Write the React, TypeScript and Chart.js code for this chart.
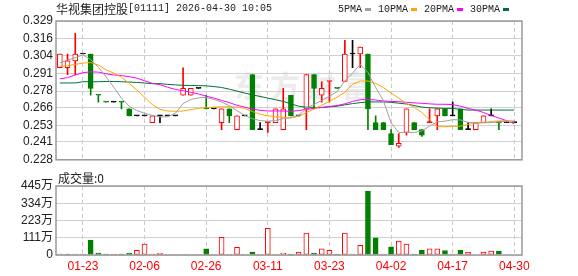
import React, { useEffect, useRef } from 'react';
import { Chart, registerables } from 'chart.js';

Chart.register(...registerables);

const tickIndex = [3, 11, 19, 27, 35, 43, 51, 59];
const tickDates = ['01-23', '02-06', '02-26', '03-11', '03-23', '04-02', '04-17', '04-30'];
const priceTicks = [0.228, 0.241, 0.253, 0.266, 0.278, 0.291, 0.304, 0.316, 0.329];
const volumeTicks = [0, 111, 223, 334, 445];

const opens = [
  0.295, 0.295, 0.300, 0.305, 0.305, 0.275, 0.270, 0.270, 0.270, 0.265,
  0.260, 0.260, 0.255, 0.260, 0.260, 0.260, 0.275, 0.275, 0.280, 0.265,
  0.265, 0.255, 0.265, 0.250, 0.260, 0.290, 0.250, 0.255, 0.255, 0.250,
  0.275, 0.260, 0.265, 0.290, 0.275, 0.285, 0.280, 0.285, 0.305, 0.305,
  0.305, 0.255, 0.255, 0.247, 0.238, 0.248, 0.255, 0.250, 0.255, 0.260,
  0.265, 0.260, 0.265, 0.250, 0.250, 0.255, 0.260, 0.255, 0.255, 0.255,
];
const highs = [
  0.305, 0.305, 0.320, 0.305, 0.305, 0.275, 0.270, 0.270, 0.270, 0.265,
  0.260, 0.260, 0.260, 0.260, 0.260, 0.260, 0.295, 0.280, 0.280, 0.275,
  0.265, 0.265, 0.265, 0.260, 0.260, 0.290, 0.255, 0.255, 0.265, 0.280,
  0.275, 0.260, 0.290, 0.290, 0.285, 0.285, 0.280, 0.315, 0.315, 0.310,
  0.305, 0.260, 0.255, 0.250, 0.247, 0.265, 0.255, 0.250, 0.265, 0.265,
  0.265, 0.270, 0.265, 0.255, 0.255, 0.260, 0.265, 0.255, 0.255, 0.255,
];
const lows = [
  0.295, 0.290, 0.290, 0.305, 0.275, 0.270, 0.270, 0.270, 0.265, 0.260,
  0.260, 0.260, 0.255, 0.255, 0.260, 0.260, 0.275, 0.275, 0.280, 0.265,
  0.265, 0.250, 0.255, 0.250, 0.260, 0.250, 0.250, 0.248, 0.255, 0.250,
  0.260, 0.260, 0.250, 0.265, 0.270, 0.270, 0.280, 0.285, 0.295, 0.295,
  0.250, 0.250, 0.250, 0.239, 0.237, 0.246, 0.250, 0.245, 0.255, 0.250,
  0.260, 0.260, 0.250, 0.250, 0.250, 0.255, 0.260, 0.250, 0.255, 0.255,
];
const closes = [
  0.305, 0.300, 0.305, 0.305, 0.280, 0.275, 0.270, 0.270, 0.270, 0.260,
  0.260, 0.260, 0.260, 0.260, 0.260, 0.260, 0.280, 0.280, 0.280, 0.265,
  0.265, 0.265, 0.260, 0.260, 0.260, 0.250, 0.250, 0.255, 0.265, 0.265,
  0.260, 0.260, 0.290, 0.280, 0.280, 0.285, 0.280, 0.305, 0.305, 0.310,
  0.265, 0.250, 0.250, 0.239, 0.240, 0.265, 0.250, 0.246, 0.255, 0.265,
  0.260, 0.260, 0.250, 0.250, 0.255, 0.260, 0.260, 0.255, 0.255, 0.255,
];
// r = up (red), g = down (green), k = unchanged (black)
const candleTone = [
  'r', 'r', 'r', 'k', 'g', 'g', 'g', 'k', 'g', 'g',
  'k', 'k', 'r', 'k', 'k', 'k', 'r', 'r', 'k', 'g',
  'k', 'r', 'g', 'r', 'k', 'g', 'k', 'r', 'r', 'r',
  'g', 'k', 'r', 'g', 'r', 'r', 'g', 'r', 'k', 'r',
  'g', 'g', 'g', 'g', 'r', 'r', 'g', 'g', 'r', 'r',
  'g', 'k', 'g', 'k', 'r', 'r', 'k', 'g', 'k', 'k',
];

// 成交量 (万)
const volumes = [
  6, 6, 6, 6, 97, 13, 6, 6, 6, 13,
  30, 71, 6, 13, 5, 5, 5, 5, 5, 39,
  5, 114, 5, 49, 5, 19, 5, 172, 5, 12,
  6, 19, 142, 13, 39, 30, 6, 142, 6, 62,
  413, 110, 6, 52, 90, 71, 6, 32, 39, 39,
  28, 6, 32, 19, 0, 19, 26, 26, 0, 0,
];
const volumeTone = [
  'r', 'g', 'r', 'r', 'g', 'g', 'g', 'r', 'g', 'g',
  'r', 'r', 'r', 'r', 'r', 'r', 'r', 'r', 'r', 'g',
  'r', 'r', 'r', 'r', 'r', 'g', 'r', 'r', 'r', 'r',
  'g', 'r', 'r', 'g', 'r', 'r', 'g', 'r', 'r', 'r',
  'g', 'g', 'r', 'g', 'r', 'r', 'g', 'g', 'r', 'r',
  'g', 'r', 'g', 'r', 'r', 'r', 'r', 'g', 'r', 'r',
];

const ma5 = [
  0.2986, 0.3005, 0.3023, 0.3044, 0.3009, 0.2953, 0.2883, 0.2808, 0.2729, 0.2670,
  0.2638, 0.2619, 0.2603, 0.2593, 0.2593, 0.2619, 0.2689, 0.2719, 0.2731, 0.2734,
  0.2719, 0.2701, 0.2673, 0.2638, 0.2603, 0.2579, 0.2565, 0.2561, 0.2565, 0.2579,
  0.2588, 0.2603, 0.2654, 0.2684, 0.2712, 0.2743, 0.2776, 0.2853, 0.2911, 0.2974,
  0.2916, 0.2806, 0.2712, 0.2549, 0.2479, 0.2479, 0.2479, 0.2490, 0.2525, 0.2556,
  0.2561, 0.2572, 0.2570, 0.2553, 0.2546, 0.2549, 0.2551, 0.2556, 0.2561, 0.2553,
];
const ma10 = [
  0.2958, 0.2965, 0.2974, 0.2984, 0.2988, 0.2970, 0.2935, 0.2911, 0.2881, 0.2836,
  0.2787, 0.2736, 0.2682, 0.2647, 0.2635, 0.2633, 0.2635, 0.2645, 0.2654, 0.2659,
  0.2663, 0.2666, 0.2666, 0.2663, 0.2654, 0.2631, 0.2612, 0.2600, 0.2593, 0.2588,
  0.2584, 0.2596, 0.2624, 0.2649, 0.2677, 0.2705, 0.2736, 0.2771, 0.2829, 0.2853,
  0.2853, 0.2836, 0.2806, 0.2766, 0.2729, 0.2689, 0.2663, 0.2624, 0.2572, 0.2521,
  0.2521, 0.2523, 0.2525, 0.2537, 0.2549, 0.2553, 0.2558, 0.2563, 0.2565, 0.2563,
];
const ma20 = [
  0.2869, 0.2878, 0.2897, 0.2914, 0.2920, 0.2918, 0.2906, 0.2897, 0.2893, 0.2885,
  0.2874, 0.2855, 0.2836, 0.2827, 0.2808, 0.2792, 0.2783, 0.2771, 0.2759, 0.2743,
  0.2729, 0.2712, 0.2696, 0.2677, 0.2663, 0.2649, 0.2640, 0.2635, 0.2635, 0.2635,
  0.2633, 0.2638, 0.2647, 0.2654, 0.2661, 0.2668, 0.2675, 0.2687, 0.2705, 0.2717,
  0.2719, 0.2715, 0.2708, 0.2705, 0.2703, 0.2698, 0.2694, 0.2691, 0.2687, 0.2684,
  0.2684, 0.2682, 0.2670, 0.2654, 0.2642, 0.2624, 0.2603, 0.2584, 0.2565, 0.2542,
];
const ma30 = [
  0.2839, 0.2839, 0.2839, 0.2848, 0.2848, 0.2848, 0.2850, 0.2850, 0.2848, 0.2846,
  0.2843, 0.2839, 0.2834, 0.2834, 0.2829, 0.2825, 0.2822, 0.2820, 0.2820, 0.2818,
  0.2813, 0.2806, 0.2794, 0.2780, 0.2766, 0.2752, 0.2741, 0.2729, 0.2717, 0.2705,
  0.2687, 0.2670, 0.2663, 0.2661, 0.2661, 0.2666, 0.2670, 0.2680, 0.2689, 0.2696,
  0.2701, 0.2701, 0.2701, 0.2698, 0.2692, 0.2686, 0.2675, 0.2663, 0.2659, 0.2656,
  0.2654, 0.2654, 0.2647, 0.2642, 0.2642, 0.2642, 0.2642, 0.2642, 0.2642, 0.2642,
];

const maLabels = ['5PMA', '10PMA', '20PMA', '30PMA'];
const maColors = ['#a0a0a0', '#ffa500', '#ff00ff', '#00703a'];

const RED = '#ff0000';
const GREEN = '#008000';
const BLACK = '#000000';
const SANS = "'Liberation Sans', 'Noto Sans CJK SC', sans-serif";

export default function App() {
  const priceRef = useRef<HTMLCanvasElement | null>(null);
  const volRef = useRef<HTMLCanvasElement | null>(null);

  useEffect(() => {
    const N = closes.length;
    const idx = Array.from({ length: N }, (_, i) => i);
    const tone = (t: string) => (t === 'r' ? RED : t === 'g' ? GREEN : BLACK);

    const framePlugin = {
      id: 'frame',
      afterDraw(chart: any) {
        const { ctx, chartArea: a } = chart;
        ctx.save();
        ctx.strokeStyle = '#9a9a9a';
        ctx.lineWidth = 1.5;
        ctx.strokeRect(a.left, a.top, a.right - a.left, a.bottom - a.top);
        ctx.restore();
      },
    };

    const makeX = (showLabels: boolean): any => ({
      type: 'linear',
      min: -0.5,
      max: N,
      offset: false,
      afterBuildTicks: (s: any) => {
        s.ticks = tickIndex.map((v) => ({ value: v }));
      },
      afterFit: (s: any) => {
        if (showLabels) s.height = 18;
      },
      grid: { color: '#c8c8c8', lineWidth: 1, drawTicks: false, offset: false },
      border: { display: false, dash: [4, 3] },
      ticks: {
        display: showLabels,
        autoSkip: false,
        maxRotation: 0,
        padding: 4,
        color: RED,
        font: { size: 12, family: SANS },
        callback: (v: any) => {
          const k = tickIndex.indexOf(Number(v));
          return k >= 0 ? tickDates[k] : '';
        },
      },
    });

    const makeY = (min: number, max: number, values: number[], fmt: (v: number) => string): any => ({
      min,
      max,
      afterBuildTicks: (s: any) => {
        s.ticks = values.map((v) => ({ value: v }));
      },
      afterFit: (s: any) => {
        s.width = 48;
      },
      grid: { color: '#d0d0d0', drawTicks: false },
      border: { display: false },
      ticks: {
        autoSkip: false,
        padding: 3,
        color: '#222222',
        font: { size: 12, family: SANS },
        callback: (v: any) => fmt(Number(v)),
      },
    });

    const maSeries = [ma5, ma10, ma20, ma30];

    const price = new Chart(priceRef.current as HTMLCanvasElement, {
      type: 'bar',
      data: {
        datasets: [
          ...maSeries.map((s, k) => ({
            type: 'line' as const,
            label: maLabels[k],
            data: idx.map((i) => ({ x: i, y: s[i] })),
            borderColor: maColors[k],
            borderWidth: 1,
            pointRadius: 0,
            tension: 0,
            fill: false,
            order: 0,
          })),
          {
            type: 'bar' as const,
            label: 'body',
            data: idx.map((i) => ({
              x: i,
              y: [Math.min(opens[i], closes[i]), Math.max(opens[i], closes[i])],
            })),
            backgroundColor: idx.map((i) => (closes[i] > opens[i] ? '#ffffff' : tone(candleTone[i]))),
            borderColor: idx.map((i) => tone(candleTone[i])),
            borderWidth: 1,
            borderSkipped: false,
            barThickness: 5,
            minBarLength: 1,
            grouped: false,
            order: 1,
          },
          {
            type: 'bar' as const,
            label: 'wick',
            data: idx.map((i) => ({ x: i, y: [lows[i], highs[i]] })),
            backgroundColor: idx.map((i) => tone(candleTone[i])),
            borderWidth: 0,
            barThickness: 1,
            grouped: false,
            order: 2,
          },
        ] as any,
      },
      options: {
        responsive: false,
        animation: false,
        devicePixelRatio: 1,
        layout: { padding: { left: 8, right: 56, top: 21, bottom: 5 } },
        plugins: { legend: { display: false }, tooltip: { enabled: false } },
        scales: {
          x: makeX(false),
          y: makeY(0.228, 0.329, priceTicks, (v) => v.toFixed(3)),
        },
      } as any,
      plugins: [framePlugin],
    });

    const vol = new Chart(volRef.current as HTMLCanvasElement, {
      type: 'bar',
      data: {
        datasets: [
          {
            label: '成交量',
            data: idx.map((i) => ({ x: i, y: volumes[i] })),
            backgroundColor: idx.map((i) => (volumeTone[i] === 'r' ? '#ffffff' : GREEN)),
            borderColor: idx.map((i) => tone(volumeTone[i])),
            borderWidth: 1,
            borderSkipped: false,
            barThickness: 5,
            grouped: false,
          },
        ] as any,
      },
      options: {
        responsive: false,
        animation: false,
        devicePixelRatio: 1,
        layout: { padding: { left: 8, right: 56, top: 14, bottom: 3 } },
        plugins: { legend: { display: false }, tooltip: { enabled: false } },
        scales: {
          x: makeX(true),
          y: makeY(0, 445, volumeTicks, (v) => (v === 0 ? '0' : `${v}万`)),
        },
      } as any,
      plugins: [framePlugin],
    });

    return () => {
      price.destroy();
      vol.destroy();
    };
  }, []);

  const cjk = "'Noto Sans CJK SC', sans-serif";
  const mono = "'Liberation Mono', monospace";

  return (
    <div
      style={{
        position: 'fixed',
        left: 0,
        top: 0,
        width: 578,
        height: 276,
        background: '#ffffff',
        overflow: 'hidden',
      }}
    >
      <div
        style={{
          position: 'absolute',
          left: 234,
          top: 66,
          fontFamily: cjk,
          fontWeight: 700,
          fontSize: 30,
          letterSpacing: 6,
          color: '#ececec',
          lineHeight: '36px',
          whiteSpace: 'nowrap',
        }}
      >
        东方财富
      </div>
      <canvas
        ref={priceRef}
        width={578}
        height={170}
        style={{ position: 'absolute', left: 0, top: 0 }}
      />
      <canvas
        ref={volRef}
        width={578}
        height={104}
        style={{ position: 'absolute', left: 0, top: 172 }}
      />
      <div
        style={{
          position: 'absolute',
          left: 56,
          top: 1,
          height: 16,
          display: 'flex',
          alignItems: 'center',
          whiteSpace: 'nowrap',
          color: '#222222',
        }}
      >
        <span style={{ fontFamily: cjk, fontSize: 12, lineHeight: '16px' }}>华视集团控股</span>
        <span style={{ fontFamily: mono, fontSize: 10, lineHeight: '16px' }}>[01111] 2026-04-30 10:05</span>
      </div>
      <div
        style={{
          position: 'absolute',
          left: 338,
          top: 1,
          height: 16,
          display: 'flex',
          alignItems: 'center',
          whiteSpace: 'nowrap',
          color: '#222222',
          fontFamily: mono,
          fontSize: 10,
        }}
      >
        {maLabels.map((label, k) => (
          <span key={label} style={{ display: 'flex', alignItems: 'center', marginRight: 7 }}>
            <span>{label}</span>
            <span
              style={{
                display: 'inline-block',
                marginLeft: 3,
                width: 6,
                height: 3,
                background: maColors[k],
              }}
            />
          </span>
        ))}
      </div>
      <div
        style={{
          position: 'absolute',
          left: 58,
          top: 170,
          fontFamily: cjk,
          fontSize: 12,
          lineHeight: '16px',
          color: '#222222',
          whiteSpace: 'nowrap',
        }}
      >
        成交量:0
      </div>
    </div>
  );
}
